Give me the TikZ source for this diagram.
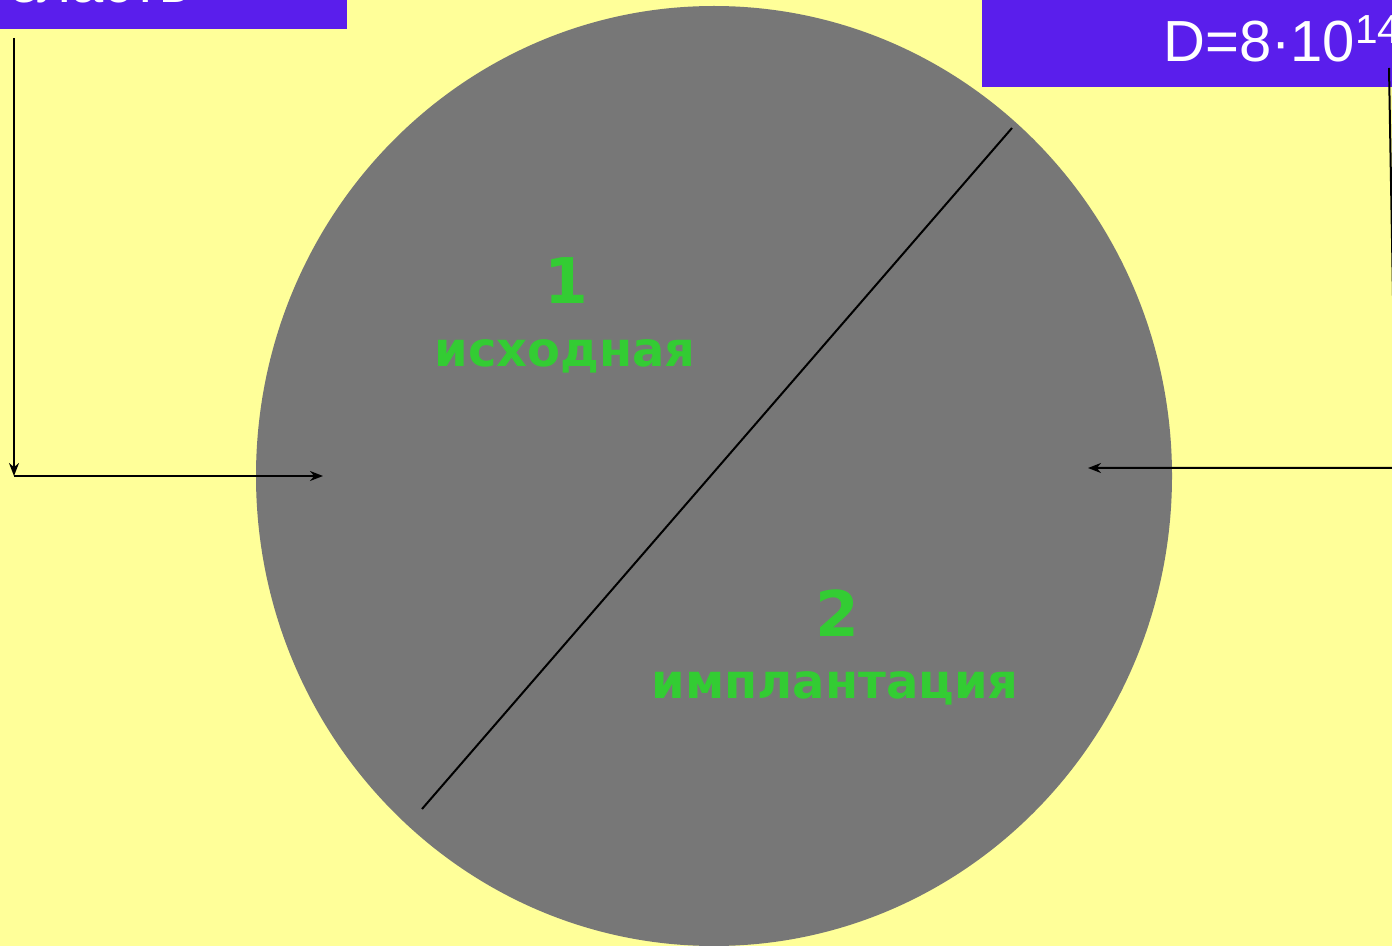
\documentclass[tikz,border=0pt]{standalone}
\usepackage{fontspec}
\setmainfont{Liberation Sans}
\newfontfamily\zonefont{DejaVu Sans}
\usepackage{xcolor}
\usetikzlibrary{arrows.meta,positioning,shapes.geometric}
\definecolor{slidebg}{HTML}{FFFF99}
\definecolor{boxblue}{HTML}{5A1EEC}
\definecolor{wafergray}{HTML}{777777}
\definecolor{zonegreen}{HTML}{33CC33}

\begin{document}
\begin{tikzpicture}[
    x=0.5pt, y=-0.5pt,
    infobox/.style={fill=boxblue, inner sep=0pt},
    infotext/.style={text=white, inner sep=0pt, font=\fontsize{29}{33}\selectfont},
    zonenum/.style={text=zonegreen, inner sep=0pt, anchor=base,
    font=\zonefont\bfseries\fontsize{31.5}{36}\selectfont},
    zoneword/.style={text=zonegreen, inner sep=0pt, anchor=base,
    font=\zonefont\bfseries\fontsize{24}{28}\selectfont},
    arr/.style={-{Stealth[length=6.5pt,width=5pt]}, line width=1pt}
]
\useasboundingbox (0,0) rectangle (1392,946);
\clip (0,0) rectangle (1392,946);
\fill[slidebg] (0,0) rectangle (1392,946);

% wafer with the two halves
\node[ellipse, fill=wafergray, minimum width=458pt, minimum height=470pt, inner sep=0pt] (wafer) at (714,476) {};
\coordinate (cuttop) at (1012,128);
\coordinate (cutbot) at (422,809);
\draw[line width=1pt] (cuttop) -- (cutbot);

\node[zonenum] (num1) at (566,304) {1};
\node[zoneword] (word1) at (565,367) {исходная};
\node[zonenum] (num2) at (837,636) {2};
\node[zoneword] (word2) at (835,698) {имплантация};

% boxes at the top
\node[infobox, anchor=south east, minimum width=183.5pt, minimum height=44.5pt] (srcbox) at (347,29) {};
\node[infotext, anchor=base east] (srctext) at (190,3) {область};
\node[infobox, anchor=south west, minimum width=219pt, minimum height=63.5pt] (dosebox) at (982,87) {};
\node[infotext, anchor=base west] (dosetext) at (1163,62) {D=8·10\textsuperscript{14}};

% connectors
\coordinate (srcstart) at (14,38);
\coordinate (srcbend) at (14,476);
\coordinate (srchit) at (323,476);
\draw[arr] (srcstart) -- (srcbend);
\draw[arr] (srcbend) -- (srchit);
\coordinate (dosestart) at (1389,68);
\coordinate (dosebend) at (1396,468);
\coordinate (dosehit) at (1088,468);
\draw[arr] (dosestart) -- (dosebend) -- (dosehit);
\end{tikzpicture}
\end{document}
